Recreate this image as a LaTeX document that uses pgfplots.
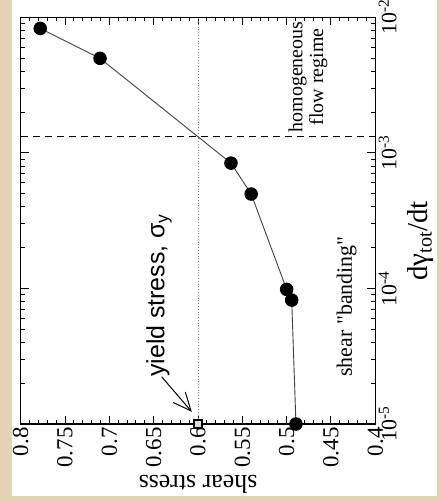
\documentclass[border=0pt]{standalone}
\usepackage{fontspec}
\setmainfont{Liberation Serif}
\newfontfamily\helv{Liberation Sans}
\newfontfamily\plainserif[Ligatures=TeXOff]{Liberation Serif}
\usepackage{pgfplots}
\pgfplotsset{compat=1.18}
\usetikzlibrary{arrows.meta}
\definecolor{parch}{RGB}{226,211,178}
\begin{document}
\begin{tikzpicture}[x=1bp,y=1bp]
\useasboundingbox (0,0) rectangle (441,502);
\fill[parch] (0,0) rectangle (441,502);
\fill[white] (12,6) rectangle (437,502);
\begin{axis}[
  at={(20.7bp,78bp)}, anchor=south west,
  scale only axis, width=354.6bp, height=406.7bp,
  x dir=reverse, xmin=0.4, xmax=0.8,
  ymode=log, log basis y=10, ymin=1e-5, ymax=1e-2,
  clip=false,
  axis line style={line width=1.3bp},
  tick align=inside, xtick pos=both, ytick pos=both,
  xticklabel pos=lower, yticklabel pos=right,
  xtick={0.4,0.45,0.5,0.55,0.6,0.65,0.7,0.75,0.8},
  xticklabels={0.4,0.45,0.5,0.55,0.6,0.65,0.7,0.75,0.8},
  minor x tick num=4,
  ytick={1e-5,1e-4,1e-3,1e-2},
  yticklabels={10\textsuperscript{-5},10\textsuperscript{-4},10\textsuperscript{-3},10\textsuperscript{-2}},
  minor ytick={2e-5,3e-5,4e-5,5e-5,6e-5,7e-5,8e-5,9e-5,2e-4,3e-4,4e-4,5e-4,6e-4,7e-4,8e-4,9e-4,2e-3,3e-3,4e-3,5e-3,6e-3,7e-3,8e-3,9e-3},
  tick style={line width=1bp, black},
  major tick length=8bp, minor tick length=4bp,
  xticklabel style={rotate=90, anchor=east, font=\fontsize{23}{23}\selectfont},
  yticklabel style={rotate=90, anchor=north, font=\fontsize{22}{22}\selectfont},
  xlabel={shear stress},
  ylabel={dγ\textsubscript{tot}/dt},
  every axis x label/.style={at={(axis description cs:0.5,-0.1475)}, anchor=center, rotate=180, font=\fontsize{26}{26}\selectfont},
  every axis y label/.style={at={(axis description cs:1.129,0.45)}, anchor=center, rotate=90, font=\fontsize{29}{29}\selectfont},
]
\addplot[gray, dotted, line width=0.8bp] coordinates {(0.6,1e-5) (0.6,1e-2)};
\addplot[black, dash pattern=on 7bp off 5bp, line width=1.4bp] coordinates {(0.8,1.315e-3) (0.4,1.315e-3)};
\addplot[black!75, line width=0.9bp, mark=*, mark size=6.3bp, mark options={fill=black, draw=black, solid}] coordinates {
(0.778,8.28e-3) (0.7105,4.98e-3) (0.5628,8.4e-4) (0.540,4.97e-4) (0.500,9.84e-5) (0.4943,8.2e-5) (0.4895,1e-5)};
\addplot[only marks, mark=square*, mark size=4bp, mark options={fill=gray!25, draw=black, line width=1.6bp}] coordinates {(0.6,1e-5)};
\node[rotate=90, anchor=base west, font=\helv\fontsize{25}{25}\selectfont] at (axis cs:0.638,2.1e-5) {yield stress, σ\textsubscript{y}};
\draw[-{Straight Barb[length=18bp,width=16bp]}, line width=1bp] (axis cs:0.641,2.23e-5) -- (axis cs:0.607,1.23e-5);
\node[rotate=90, anchor=base west, font=\plainserif\fontsize{22}{22}\selectfont] at (axis cs:0.4263,2.11e-5) {shear "banding"};
\node[rotate=90, align=center, font=\fontsize{20}{21}\selectfont] at (axis cs:0.4759,3.63e-3) {homogeneous\\flow regime};
\end{axis}
\end{tikzpicture}
\end{document}
